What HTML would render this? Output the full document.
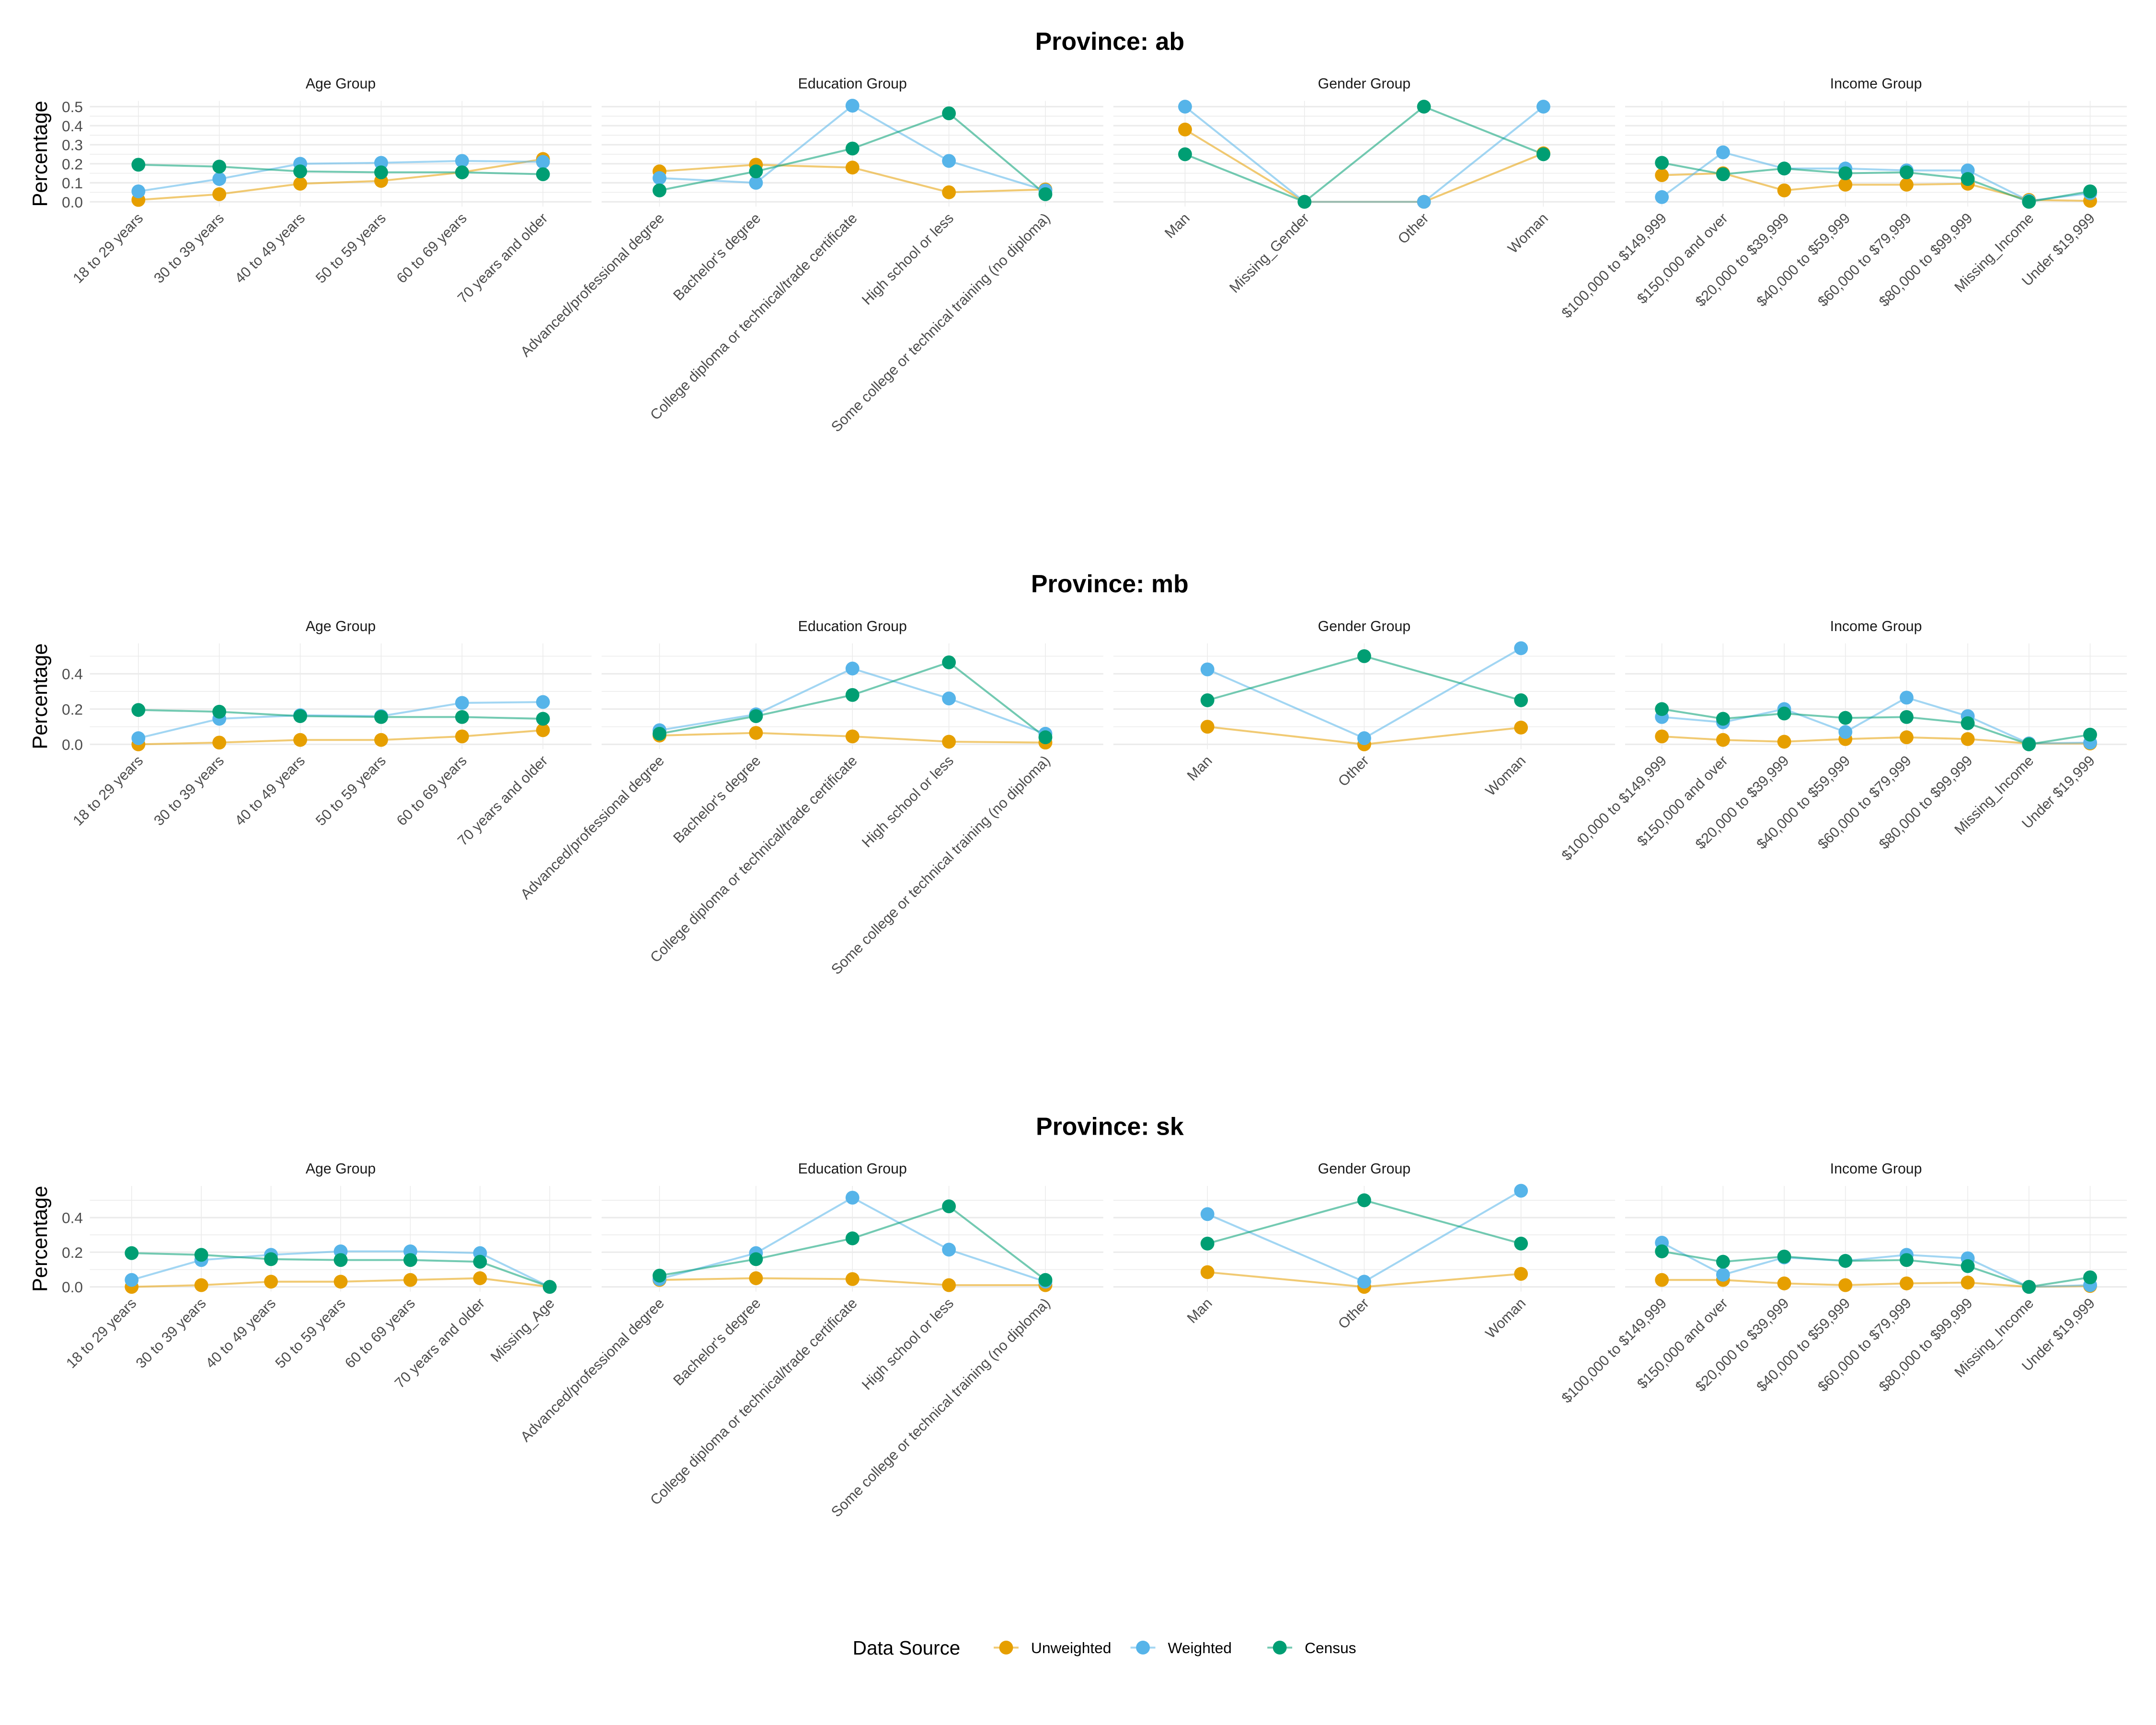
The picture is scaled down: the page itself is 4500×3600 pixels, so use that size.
<!DOCTYPE html>
<html><head><meta charset="utf-8"><style>html,body{margin:0;padding:0;background:#fff}svg{display:block}text{font-family:"Liberation Sans",sans-serif}</style></head>
<body>
<svg id="chart" width="4500" height="3600" viewBox="0 0 1560 1248" xmlns="http://www.w3.org/2000/svg"></svg>
<script>
const provinces = ["ab","mb","sk"];
const groupTitles = ["Age Group","Education Group","Gender Group","Income Group"];
const seriesNames = ["Unweighted","Weighted","Census"];
const ageCats = ["18 to 29 years","30 to 39 years","40 to 49 years","50 to 59 years","60 to 69 years","70 years and older"];
const ageCatsSk = ["18 to 29 years","30 to 39 years","40 to 49 years","50 to 59 years","60 to 69 years","70 years and older","Missing_Age"];
const eduCats = ["Advanced/professional degree","Bachelor's degree","College diploma or technical/trade certificate","High school or less","Some college or technical training (no diploma)"];
const genderCatsAb = ["Man","Missing_Gender","Other","Woman"];
const genderCats = ["Man","Other","Woman"];
const incomeCats = ["$100,000 to $149,999","$150,000 and over","$20,000 to $39,999","$40,000 to $59,999","$60,000 to $79,999","$80,000 to $99,999","Missing_Income","Under $19,999"];
const yTicksAb = [0,0.1,0.2,0.3,0.4,0.5];
const yTicksOther = [0,0.2,0.4];

// ab
const abAgeU = [0.01,0.04,0.095,0.11,0.155,0.225];
const abAgeW = [0.055,0.12,0.2,0.205,0.215,0.21];
const abAgeC = [0.195,0.185,0.16,0.155,0.155,0.145];
const abEduU = [0.16,0.195,0.18,0.05,0.065];
const abEduW = [0.125,0.1,0.505,0.215,0.06];
const abEduC = [0.06,0.16,0.28,0.465,0.04];
const abGenU = [0.38,0,0,0.255];
const abGenW = [0.5,0,0,0.5];
const abGenC = [0.25,0,0.5,0.25];
const abIncU = [0.14,0.15,0.06,0.09,0.09,0.095,0.01,0.005];
const abIncW = [0.025,0.26,0.175,0.175,0.165,0.165,0.005,0.045];
const abIncC = [0.205,0.145,0.175,0.15,0.155,0.12,0,0.055];
// mb
const mbAgeU = [0,0.01,0.025,0.025,0.045,0.08];
const mbAgeW = [0.035,0.145,0.165,0.16,0.235,0.24];
const mbAgeC = [0.195,0.185,0.16,0.155,0.155,0.145];
const mbEduU = [0.05,0.065,0.045,0.015,0.01];
const mbEduW = [0.08,0.17,0.43,0.26,0.06];
const mbEduC = [0.06,0.16,0.28,0.465,0.04];
const mbGenU = [0.1,0,0.095];
const mbGenW = [0.425,0.035,0.545];
const mbGenC = [0.25,0.5,0.25];
const mbIncU = [0.045,0.025,0.015,0.03,0.04,0.03,0.005,0.005];
const mbIncW = [0.155,0.125,0.2,0.07,0.265,0.16,0.005,0.01];
const mbIncC = [0.2,0.145,0.175,0.15,0.155,0.12,0,0.055];
// sk
const skAgeU = [0,0.01,0.03,0.03,0.04,0.05,0];
const skAgeW = [0.04,0.155,0.185,0.205,0.205,0.195,0];
const skAgeC = [0.195,0.185,0.16,0.155,0.155,0.145,0];
const skEduU = [0.04,0.05,0.045,0.01,0.01];
const skEduW = [0.045,0.195,0.515,0.215,0.03];
const skEduC = [0.065,0.16,0.28,0.465,0.04];
const skGenU = [0.085,0,0.075];
const skGenW = [0.42,0.03,0.555];
const skGenC = [0.25,0.5,0.25];
const skIncU = [0.04,0.04,0.02,0.01,0.02,0.025,0,0.005];
const skIncW = [0.255,0.07,0.17,0.15,0.185,0.165,0,0.01];
const skIncC = [0.205,0.145,0.175,0.15,0.155,0.12,0,0.055];

const rows = [
  {prov:"ab", ticks:yTicksAb, minorStep:0.05, panels:[[ageCats,abAgeU,abAgeW,abAgeC],[eduCats,abEduU,abEduW,abEduC],[genderCatsAb,abGenU,abGenW,abGenC],[incomeCats,abIncU,abIncW,abIncC]]},
  {prov:"mb", ticks:yTicksOther, minorStep:0.1, panels:[[ageCats,mbAgeU,mbAgeW,mbAgeC],[eduCats,mbEduU,mbEduW,mbEduC],[genderCats,mbGenU,mbGenW,mbGenC],[incomeCats,mbIncU,mbIncW,mbIncC]]},
  {prov:"sk", ticks:yTicksOther, minorStep:0.1, panels:[[ageCatsSk,skAgeU,skAgeW,skAgeC],[eduCats,skEduU,skEduW,skEduC],[genderCats,skGenU,skGenW,skGenC],[incomeCats,skIncU,skIncW,skIncC]]}
];
const colors = ["#E69F00","#56B4E9","#009E73"];
const NS = "http://www.w3.org/2000/svg";
const svg = document.getElementById("chart");
function mk(tag, attrs, parent){const e=document.createElementNS(NS,tag);for(const k in attrs)e.setAttribute(k,attrs[k]);(parent||svg).appendChild(e);return e;}

const panelX0 = 65, panelPitch = 370.3, panelW = 363, panelH = 76.5, rowPitch = 392.5, panelTop0 = 73;

rows.forEach((row, ri) => {
  const g = mk("g", {});
  
  
  const top = panelTop0 + ri*rowPitch, bottom = top + panelH;
  let maxV = 0;
  row.panels.forEach(p => {for(let s=1;s<=3;s++) p[s].forEach(v => {if(v>maxV)maxV=v;});});
  const lo = -0.05*maxV, hi = maxV*1.05;
  const y = v => bottom - (v-lo)/(hi-lo)*panelH;
  const t = mk("text", {x:803, y:top-37, "text-anchor":"middle", "font-size":18, "font-weight":"bold", fill:"#000"}, g);
  t.textContent = "Province: " + row.prov;
  
  
  const yl = mk("text", {transform:`translate(34,${(top+bottom)/2}) rotate(-90)`, "text-anchor":"middle", "font-size":15, fill:"#000"}, g);
  yl.textContent = "Percentage";
  
  
  row.ticks.forEach(tv => {
    const tl = mk("text", {x:60, y:y(tv)+4, "text-anchor":"end", "font-size":11, fill:"#4d4d4d"}, g);
    tl.textContent = tv.toFixed(1);
    
    
  });
  row.panels.forEach((p, pi) => {
    const cats = p[0];
    const x0 = panelX0 + pi*panelPitch;
    const n = cats.length, step = panelW/(n-1+1.2);
    const x = i => x0 + step*(0.6+i);
    const pg = mk("g", {}, g);
    
    
    for(let m=row.minorStep; m<hi; m+=row.minorStep*2){
      mk("line",{x1:x0,x2:x0+panelW,y1:y(m),y2:y(m),stroke:"#ebebeb","stroke-width":0.55},pg);
    }
    row.ticks.forEach(tv => mk("line",{x1:x0,x2:x0+panelW,y1:y(tv),y2:y(tv),stroke:"#ebebeb","stroke-width":1.1},pg));
    cats.forEach((c,i) => {
      mk("line",{x1:x(i),x2:x(i),y1:top,y2:bottom,stroke:"#ebebeb","stroke-width":0.55},pg);
      const xl = mk("text",{transform:`translate(${x(i)+4},${bottom+9}) rotate(-45)`,"text-anchor":"end","font-size":10.5,fill:"#4d4d4d"},pg);
      xl.textContent = c;
      
      
    });
    const st = mk("text",{x:x0+panelW/2,y:top-9,"text-anchor":"middle","font-size":10.5,fill:"#1a1a1a"},pg);
    st.textContent = groupTitles[pi];
    
    
    for(let s=0;s<3;s++){
      const vals = p[s+1];
      const line = mk("polyline",{points:vals.map((v,i)=>x(i)+","+y(v)).join(" "),fill:"none",stroke:colors[s],"stroke-width":1.4,"stroke-opacity":0.55,"stroke-linejoin":"round"},pg);
      
      
    }
    for(let s=0;s<3;s++){
      const vals = p[s+1];
      vals.forEach((v,i) => {
        const c = mk("circle",{cx:x(i),cy:y(v),r:5,fill:colors[s]},pg);
        
        
      });
    }
  });
});

// legend
const lg = mk("g",{});


const lt = mk("text",{x:617,y:1197,"font-size":14,fill:"#000"},lg);
lt.textContent = "Data Source";


const legX = [728, 827, 926];
seriesNames.forEach((nm,s) => {
  const eg = mk("g",{},lg);
  
  
  mk("line",{x1:legX[s]-9,x2:legX[s]+9,y1:1192,y2:1192,stroke:colors[s],"stroke-width":1.4,"stroke-opacity":0.55},eg);
  mk("circle",{cx:legX[s],cy:1192,r:5,fill:colors[s]},eg);
  const tx = mk("text",{x:legX[s]+18,y:1196,"font-size":11,fill:"#000"},eg);
  tx.textContent = nm;
});
</script>
</body></html>
